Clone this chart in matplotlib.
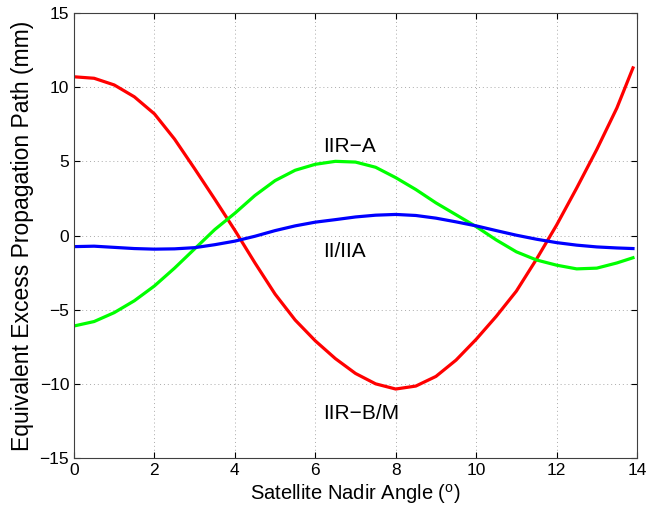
import matplotlib
matplotlib.use("Agg")
import matplotlib.pyplot as plt

plt.rcParams['font.family'] = ['Liberation Sans', 'DejaVu Sans']
plt.rcParams['mathtext.default'] = 'regular'

# nadir angle (deg)
angle = [0, 0.5, 1, 1.5, 2, 2.5, 3, 3.5, 4, 4.5, 5, 5.5, 6, 6.5, 7,
         7.5, 8, 8.5, 9, 9.5, 10, 10.5, 11, 11.5, 12, 12.5, 13, 13.5, 13.9]

# equivalent excess propagation path (mm)
iir_bm = [10.7, 10.6, 10.15, 9.35, 8.2, 6.5, 4.5, 2.45, 0.35, -1.85, -3.95, -5.7, -7.1, -8.3, -9.3,
          -10.0, -10.35, -10.15, -9.5, -8.4, -7.0, -5.45, -3.75, -1.6, 0.7, 3.2, 5.8, 8.6, 11.3]
iir_a = [-6.1, -5.8, -5.2, -4.4, -3.4, -2.2, -0.9, 0.4, 1.5, 2.7, 3.7, 4.4, 4.8, 5.0, 4.95,
         4.6, 3.9, 3.1, 2.2, 1.4, 0.6, -0.3, -1.1, -1.65, -2.0, -2.25, -2.2, -1.85, -1.5]
ii_iia = [-0.75, -0.72, -0.8, -0.88, -0.92, -0.9, -0.82, -0.62, -0.38, -0.05, 0.33, 0.65, 0.9, 1.07, 1.25,
          1.37, 1.42, 1.35, 1.17, 0.92, 0.65, 0.33, 0.02, -0.25, -0.48, -0.65, -0.77, -0.84, -0.88]

fig = plt.figure(figsize=(6.52, 5.16), dpi=100)
ax = fig.add_axes([0.1135, 0.1124, 0.8635, 0.8624])

for ys, c in [(iir_bm, '#ff0000'), (iir_a, '#00ff00'), (ii_iia, '#0000ff')]:
    ax.plot(angle, ys, color=c, lw=2.3, solid_joinstyle='round')

ax.text(6.2, 6.0, 'IIR\u2212A', fontsize=15, va='center')
ax.text(6.2, -1.1, 'II/IIA', fontsize=15, va='center')
ax.text(6.2, -12.0, 'IIR\u2212B/M', fontsize=15, va='center')

ax.set_xlim(0, 14)
ax.set_ylim(-15, 15)
ax.set_xticks(range(0, 15, 2))
ax.set_yticks(range(-15, 16, 5))
ax.grid(True, linestyle=(0, (1, 3)), color='#aaaaaa', linewidth=0.7)
ax.tick_params(direction='in', top=True, right=True, labelsize=12.5, length=4)
for s in ax.spines.values():
    s.set_color('#404040')

ax.set_xlabel('Satellite Nadir Angle ($^{o}$)', fontsize=14.5, labelpad=3)
ax.set_ylabel('Equivalent Excess Propagation Path (mm)', fontsize=16.5, labelpad=4)

fig.savefig('out.png', dpi=100)
